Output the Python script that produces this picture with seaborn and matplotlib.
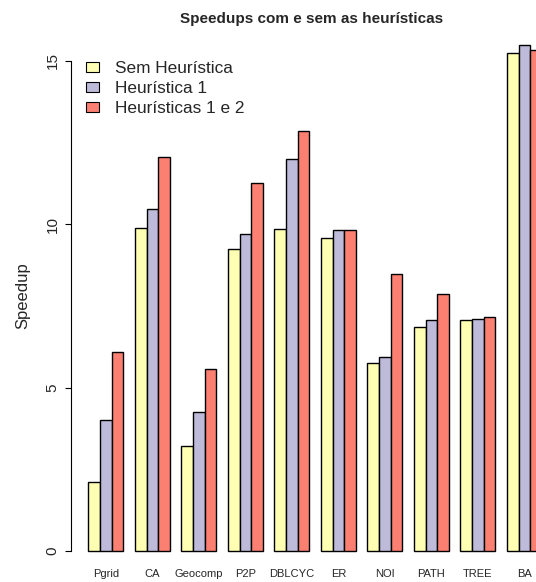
import matplotlib
matplotlib.use("Agg")
import matplotlib.pyplot as plt
import seaborn as sns
import pandas as pd

categories = ["Pgrid", "CA", "Geocomp", "P2P", "DBLCYC", "ER", "NOI", "PATH", "TREE", "BA"]
series_names = ["Sem Heurística", "Heurística 1", "Heurísticas 1 e 2"]
sem_heuristica = [2.11, 9.90, 3.21, 9.24, 9.85, 9.57, 5.74, 6.85, 7.06, 15.23]
heuristica_1 = [4.02, 10.47, 4.25, 9.70, 12.00, 9.82, 5.93, 7.06, 7.11, 15.50]
heuristicas_1_2 = [6.09, 12.06, 5.57, 11.25, 12.85, 9.82, 8.47, 7.88, 7.15, 15.32]
colors = ["#FFFFB3", "#BEBADA", "#FB8072"]
yticks = [0, 5, 10, 15]

df = pd.DataFrame({
    "categoria": categories * 3,
    "serie": [series_names[0]] * 10 + [series_names[1]] * 10 + [series_names[2]] * 10,
    "speedup": sem_heuristica + heuristica_1 + heuristicas_1_2,
})

sns.set_theme(style="white")
plt.rcParams["font.family"] = ["Liberation Sans", "DejaVu Sans"]

W, H = 536, 582
AX_L, AX_B = 71, 557.5
fig = plt.figure(figsize=(W / 100, H / 100), dpi=100)
ax = fig.add_axes([AX_L / W, (H - AX_B) / H, (W - AX_L) / W, AX_B / H])

sns.barplot(data=df, x="categoria", y="speedup", hue="serie", order=categories,
            hue_order=series_names, palette=colors, width=0.75, gap=0,
            edgecolor="black", linewidth=1.0, saturation=1, ax=ax, errorbar=None)

ax.set_xlim(-0.751, 9.25)
ax.set_ylim(-0.2, 16.865)

for s in ["top", "right", "bottom"]:
    ax.spines[s].set_visible(False)
ax.spines["left"].set_bounds(0, 15)
ax.spines["left"].set_color("black")
ax.spines["left"].set_linewidth(0.8)

ax.set_yticks(yticks)
ax.set_yticklabels([str(t) for t in yticks], rotation=90, va="center", fontsize=11)
ax.tick_params(axis="y", direction="out", length=4.3, width=0.8, color="black", pad=4, left=True)
ax.tick_params(axis="x", length=0, pad=8.5, labelsize=8)
ax.set_xlabel("")
ax.set_ylabel("Speedup", fontsize=12)
ax.yaxis.set_label_coords((30.5 - AX_L) / (W - AX_L), (AX_B - 296) / AX_B)

leg = ax.legend(loc="upper left", bbox_to_anchor=(86 / W, 1 - 61 / H), bbox_transform=fig.transFigure,
                frameon=False, fontsize=12.4, handlelength=0.76, handleheight=0.55,
                handletextpad=0.95, labelspacing=0.3, borderaxespad=0, borderpad=0)
for h in leg.legend_handles:
    h.set_edgecolor("black")
    h.set_linewidth(0.8)

fig.text(312 / W, 1 - 19 / H, "Speedups com e sem as heurísticas", ha="center", va="center",
         fontsize=11, fontweight="bold")

fig.savefig("out.png", dpi=100)
